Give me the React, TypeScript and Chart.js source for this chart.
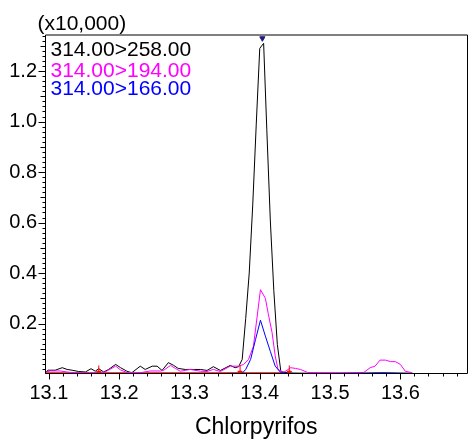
import React, { useEffect, useRef } from 'react';
import { Chart, registerables } from 'chart.js';

Chart.register(...registerables);

const FONT = '"Liberation Sans", Arial, Helvetica, sans-serif';

const seriesLabels = ['314.00>258.00', '314.00>194.00', '314.00>166.00'];
const seriesColors = ['#000000', '#ff00ff', '#0000ff'];
const scaleLabel = '(x10,000)';
const xTitle = 'Chlorpyrifos';

const xLabelTicks = [13.1, 13.2, 13.3, 13.4, 13.5, 13.6];
const yLabelTicks = [0.2, 0.4, 0.6, 0.8, 1.0, 1.2];

const blackTimes = [13.095, 13.099, 13.109, 13.119, 13.126, 13.133, 13.142, 13.152, 13.16, 13.166, 13.171, 13.178, 13.185, 13.195, 13.202, 13.211, 13.218, 13.23, 13.237, 13.247, 13.254, 13.261, 13.27, 13.277, 13.284, 13.294, 13.306, 13.316, 13.325, 13.334, 13.344, 13.358, 13.365, 13.37, 13.375, 13.38, 13.385, 13.39, 13.395, 13.4, 13.4055, 13.41, 13.415, 13.42, 13.425, 13.43, 13.44, 13.47, 13.52, 13.57, 13.617];
const blackValues = [0.006, 0.015, 0.015, 0.025, 0.018, 0.015, 0.01, 0.008, 0.021, 0.011, 0.021, 0.008, 0.018, 0.038, 0.025, 0.011, 0.005, 0.031, 0.018, 0.031, 0.031, 0.014, 0.045, 0.035, 0.022, 0.018, 0.018, 0.018, 0.014, 0.029, 0.014, 0.034, 0.025, 0.029, 0.058, 0.22, 0.4, 0.67, 0.99, 1.29, 1.31, 0.97, 0.61, 0.33, 0.117, 0.01, 0.004, 0.003, 0.003, 0.004, 0.003];

const magentaTimes = [13.095, 13.102, 13.116, 13.131, 13.159, 13.18, 13.195, 13.202, 13.211, 13.23, 13.244, 13.259, 13.263, 13.273, 13.28, 13.287, 13.301, 13.316, 13.325, 13.334, 13.344, 13.358, 13.37, 13.377, 13.384, 13.391, 13.401, 13.408, 13.412, 13.4175, 13.422, 13.426, 13.434, 13.444, 13.451, 13.458, 13.468, 13.515, 13.548, 13.557, 13.564, 13.571, 13.579, 13.586, 13.593, 13.6, 13.607, 13.617];
const magentaValues = [0.008, 0.012, 0.012, 0.006, 0.004, 0.008, 0.031, 0.016, 0.006, 0.005, 0.012, 0.012, 0.014, 0.034, 0.022, 0.011, 0.018, 0.011, 0.01, 0.018, 0.01, 0.031, 0.031, 0.038, 0.058, 0.11, 0.334, 0.3, 0.24, 0.164, 0.071, 0.018, 0.006, 0.025, 0.022, 0.018, 0.006, 0.005, 0.006, 0.025, 0.031, 0.055, 0.055, 0.049, 0.049, 0.038, 0.011, 0.005];

const blueTimes = [13.095, 13.15, 13.2, 13.25, 13.3, 13.35, 13.375, 13.38, 13.387, 13.394, 13.401, 13.408, 13.415, 13.422, 13.43, 13.45, 13.5, 13.55, 13.575, 13.6, 13.617];
const blueValues = [0.002, 0.002, 0.002, 0.002, 0.002, 0.002, 0.003, 0.018, 0.058, 0.137, 0.213, 0.15, 0.09, 0.031, 0.005, 0.002, 0.002, 0.003, 0.005, 0.003, 0.002];

const baselineTimes = [13.095, 13.44];
const baselineValues = [0.005, 0.005];
const markerTimes = [13.171, 13.372, 13.442];
const markerValues = [0.014, 0.014, 0.014];
const apexTimes = [13.4037];
const apexValues = [1.33];

const toPoints = (t: number[], v: number[]) => t.map((x, i) => ({ x, y: v[i] }));
const isMultiple = (v: number, step: number) => Math.abs(v / step - Math.round(v / step)) < 1e-6;
const inList = (v: number, list: number[]) => list.some((l) => Math.abs(l - v) < 1e-6);

const zeroPad = (s: any) => {
  s.paddingLeft = 0;
  s.paddingRight = 0;
  s.paddingTop = 0;
  s.paddingBottom = 0;
};

const decorPlugin = {
  id: 'decor',
  afterDraw(chart: any) {
    const { ctx, chartArea: a, scales } = chart;
    const xs = scales.x;
    const ys = scales.y;
    ctx.save();
    ctx.strokeStyle = '#000';
    ctx.lineWidth = 1;
    ctx.beginPath();
    const L = a.left + 0.5;
    const B = a.bottom - 0.5;
    ctx.moveTo(L, a.top + 0.5);
    ctx.lineTo(L, B);
    ctx.lineTo(a.right, B);
    ctx.lineTo(a.right, a.top + 0.5);
    ctx.closePath();
    xs.ticks.forEach((t: any) => {
      if (!isMultiple(t.value, 0.02)) return;
      const px = Math.round(xs.getPixelForValue(t.value)) + 0.5;
      const len = isMultiple(t.value, 0.1) ? 6 : 3;
      ctx.moveTo(px, B);
      ctx.lineTo(px, B + len);
    });
    ys.ticks.forEach((t: any) => {
      if (t.value <= 0) return;
      const py = Math.round(ys.getPixelForValue(t.value)) + 0.5;
      const len = isMultiple(t.value, 0.2) ? 7 : isMultiple(t.value, 0.1) ? 5 : 3;
      ctx.moveTo(L, py);
      ctx.lineTo(L - len, py);
    });
    ctx.stroke();

    ctx.textAlign = 'left';
    ctx.textBaseline = 'alphabetic';
    ctx.fillStyle = '#000';
    ctx.font = `21px ${FONT}`;
    ctx.fillText(scaleLabel, 37.5, 29.5);
    const baselines = [56, 77, 95];
    seriesLabels.forEach((lab, i) => {
      ctx.fillStyle = seriesColors[i];
      ctx.fillText(lab, a.left + 5.5, baselines[i]);
    });
    ctx.fillStyle = '#000';
    ctx.textAlign = 'center';
    ctx.font = `23px ${FONT}`;
    ctx.fillText(xTitle, (a.left + a.right) / 2, 434);
    ctx.restore();
  },
};

export default function App() {
  const ref = useRef<HTMLCanvasElement | null>(null);
  useEffect(() => {
    document.body.style.margin = '0';
    const canvas = ref.current;
    if (!canvas) return;
    const lineDs = (label: string, t: number[], v: number[], color: string, order: number) => ({
      label,
      data: toPoints(t, v),
      borderColor: color,
      backgroundColor: color,
      borderWidth: 1,
      pointRadius: 0,
      showLine: true,
      tension: 0,
      order,
    });
    const chart = new Chart(canvas, {
      type: 'scatter',
      data: {
        datasets: [
          lineDs('baseline', baselineTimes, baselineValues, '#ff0000', 5),
          lineDs(seriesLabels[0], blackTimes, blackValues, seriesColors[0], 4),
          lineDs(seriesLabels[1], magentaTimes, magentaValues, seriesColors[1], 3),
          lineDs(seriesLabels[2], blueTimes, blueValues, seriesColors[2], 2),
          {
            label: 'markers',
            data: toPoints(markerTimes, markerValues),
            pointStyle: 'line',
            rotation: 90,
            pointRadius: 5,
            borderColor: '#ff0000',
            borderWidth: 1,
            showLine: false,
            order: 1,
          },
          {
            label: 'markerHeads',
            data: toPoints(markerTimes, markerValues.map((v) => v - 0.008)),
            pointStyle: 'triangle',
            rotation: 180,
            pointRadius: 2.5,
            borderColor: '#ff0000',
            backgroundColor: '#ff0000',
            borderWidth: 1,
            showLine: false,
            order: 1,
          },
          {
            label: 'apex',
            data: toPoints(apexTimes, apexValues),
            pointStyle: 'triangle',
            rotation: 180,
            pointRadius: 3,
            borderColor: '#1c1c7a',
            backgroundColor: '#1c1c7a',
            borderWidth: 1,
            showLine: false,
            order: 0,
          },
        ],
      },
      options: {
        responsive: false,
        animation: false,
        events: [],
        layout: { autoPadding: false, padding: { top: 34.5, right: 0.5, left: 0, bottom: 0 } },
        plugins: { legend: { display: false }, tooltip: { enabled: false }, title: { display: false } },
        scales: {
          x: {
            type: 'linear',
            min: 13.0945,
            max: 13.6955,
            grid: { display: false, drawTicks: false },
            border: { display: false },
            afterFit: (s: any) => { s.height = 65; zeroPad(s); },
            ticks: {
              stepSize: 0.02,
              includeBounds: false,
              autoSkip: false,
              maxRotation: 0,
              padding: 7,
              color: '#000',
              font: { family: FONT, size: 20 },
              callback: (v: any) => (inList(Number(v), xLabelTicks) ? Number(v).toFixed(1) : ''),
            },
          },
          y: {
            type: 'linear',
            min: 0,
            max: 1.345,
            grid: { display: false, drawTicks: false },
            border: { display: false },
            afterFit: (s: any) => { s.width = 45; zeroPad(s); },
            ticks: {
              stepSize: 0.02,
              includeBounds: false,
              autoSkip: false,
              padding: 8,
              color: '#000',
              font: { family: FONT, size: 20 },
              callback: (v: any) => (inList(Number(v), yLabelTicks) ? Number(v).toFixed(1) : ''),
            },
          },
        },
      },
      plugins: [decorPlugin],
    } as any);
    return () => chart.destroy();
  }, []);
  return <canvas ref={ref} width={468} height={439} style={{ display: 'block' }} />;
}
